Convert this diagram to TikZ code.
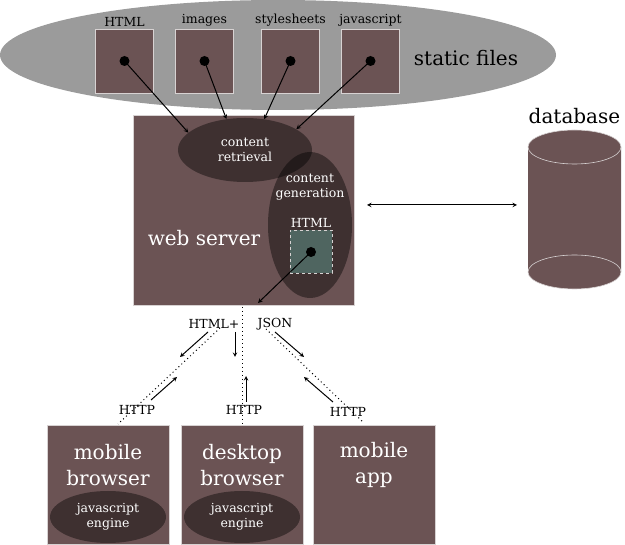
\documentclass[tikz,border=0pt]{standalone}
\usepackage{fontspec}
\setmainfont{DejaVu Serif}
\usetikzlibrary{shapes.geometric}

\definecolor{boxbrown}{RGB}{107,83,84}
\definecolor{cloudgrey}{RGB}{155,155,155}
\definecolor{htmlgreen}{RGB}{79,101,96}
\definecolor{edgegrey}{RGB}{215,210,210}

\tikzset{
    smalltext/.style={font=\fontsize{12.5}{15}\selectfont},
    bigtext/.style={font=\fontsize{20}{26}\selectfont},
    brownbox/.style={draw=edgegrey, line width=0.9pt, fill=boxbrown, inner sep=0pt},
    filebox/.style={brownbox, minimum width=58pt, minimum height=64pt},
    clientbox/.style={brownbox, minimum width=122pt, minimum height=119pt},
    darkblob/.style={ellipse, fill=black, fill opacity=0.42, text opacity=1,
        text=white, inner sep=0pt, smalltext, align=center},
    filedot/.style={fill=black},
    flow/.style={->, line width=1pt},
    track/.style={line width=1pt, dash pattern=on 1pt off 3pt},
}

\begin{document}
\begin{tikzpicture}[x=1pt, y=-1pt, >=stealth]
    \useasboundingbox (0,0) rectangle (625,545);

    \fill[cloudgrey] (278,55) ellipse [x radius=278, y radius=55];
    \node[bigtext] (static label) at (466,58) {static files};

    \node[filebox, label={[smalltext, yshift=-1pt]above:HTML}] (file html) at (124.5,61) {};
    \node[filebox, label={[smalltext, yshift=-1pt]above:images}] (file images) at (204.5,61) {};
    \node[filebox, label={[smalltext, yshift=-1pt]above:stylesheets}] (file css) at (290.5,61) {};
    \node[filebox, label={[smalltext, yshift=-1pt]above:javascript}] (file js) at (370.5,61) {};

    \node[brownbox, minimum width=221pt, minimum height=190pt] (server) at (243.5,210) {};
    \node[bigtext, text=white] (server label) at (204,238) {web server};

    \node[darkblob, minimum width=134pt, minimum height=64pt] (retrieval) at (245,150)
        {content\\retrieval};
    \node[darkblob, minimum width=84pt, minimum height=146pt] (generation) at (310,225) {};
    \node[smalltext, text=white, align=center] (generation label) at (310,187)
        {content\\generation};
    \node[brownbox, fill=htmlgreen, dashed, line width=0.6pt, minimum width=42pt, minimum height=43pt,
        label={[smalltext, text=white, yshift=-1pt]above:HTML}] (page html) at (311,252) {};

    \foreach \f/\a in {file html/163, file images/121, file css/58, file js/22} {
        \fill[filedot] (\f.center) circle (5);
        \draw[flow] (\f.center) -- (retrieval.\a);
    }

    \coordinate (server out) at (258,303);
    \fill[filedot] (page html.center) circle (5);
    \draw[flow] (page html.center) -- (server out);

    \fill[boxbrown] (528,147) -- (528,272) arc[start angle=180, end angle=0, x radius=46.5, y radius=17]
        -- (621,147) arc[start angle=0, end angle=-180, x radius=46.5, y radius=17] -- cycle;
    \draw[edgegrey, line width=0.6pt] (574.5,147) ellipse [x radius=46.5, y radius=17];
    \draw[edgegrey, line width=0.6pt] (574.5,272) ellipse [x radius=46.5, y radius=17];
    \node[bigtext] (db label) at (574.5,116) {database};

    \coordinate (server link) at (367,205);
    \coordinate (db link) at (517,205);
    \draw[flow, <->] (server link) -- (db link);

    \draw[track] (242,307) -- (242,425);
    \draw[track] (220,328) -- (118,424);
    \draw[track] (266,329) -- (363,422);

    \node[smalltext] (html plus) at (214,324) {HTML+};
    \node[smalltext] (json) at (275,324) {JSON};
    \node[smalltext] (http mobile) at (137,410) {HTTP};
    \node[smalltext] (http desktop) at (244,410) {HTTP};
    \node[smalltext] (http app) at (348,412) {HTTP};

    \draw[flow] (208,332) -- (180,357);
    \draw[flow] (151,400) -- (177,377);
    \draw[flow] (235,332) -- (235,357);
    \draw[flow] (246,402) -- (246,376);
    \draw[flow] (275,332) -- (304,357);
    \draw[flow] (333,402) -- (304,377);

    \node[clientbox] (mobile browser) at (108,485) {};
    \node[clientbox] (desktop browser) at (242,485) {};
    \node[clientbox] (mobile app) at (374,485) {};

    \node[bigtext, text=white, align=center] at (108,465) {mobile\\browser};
    \node[bigtext, text=white, align=center] at (242,465) {desktop\\browser};
    \node[bigtext, text=white, align=center] at (374,465) {mobile\\app};

    \node[darkblob, minimum width=116pt, minimum height=52pt] (mobile engine) at (108,517)
        {javascript\\engine};
    \node[darkblob, minimum width=116pt, minimum height=52pt] (desktop engine) at (242,517)
        {javascript\\engine};
\end{tikzpicture}
\end{document}
